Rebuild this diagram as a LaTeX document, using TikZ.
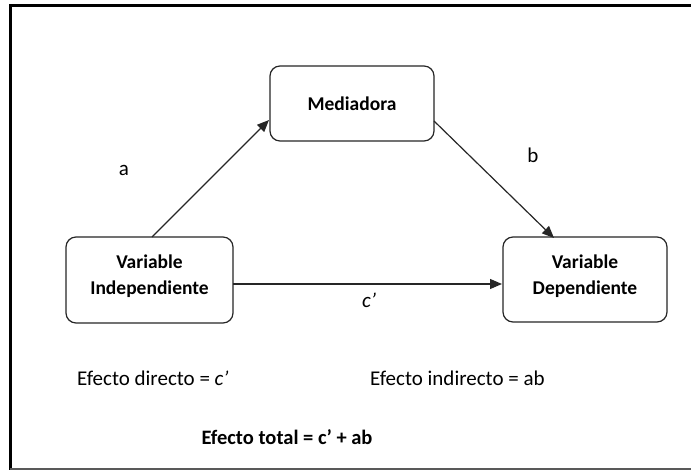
\documentclass[tikz,border=0pt]{standalone}
\usepackage{fontspec}
\setmainfont{Carlito}
\usetikzlibrary{arrows.meta}
\begin{document}
\begin{tikzpicture}[x=1pt,y=-1pt,
  box/.style={draw=black!85, line width=1.2pt, rounded corners=10pt, fill=white},
  boxtext/.style={font=\fontsize{19.5}{26}\selectfont\bfseries, align=center},
  conn/.style={draw=black!85, line width=1.2pt, -{Triangle[length=12pt,width=10pt]}},
  lbl/.style={font=\fontsize{21}{24}\selectfont, inner sep=0pt}
]
\useasboundingbox (0,0) rectangle (691,470);
% frame
\draw[black, line width=3pt] (10,480) -- (10,5.5) -- (700,5.5);
\draw[black!65, line width=2pt] (10,469) -- (700,469);
% boxes
\draw[box] (270,66) rectangle (434,141);
\node[boxtext] (med) at (352,103.5) {Mediadora};
\draw[box] (66,237) rectangle (233,323);
\node[boxtext] (ind) at (149.5,276) {Variable\\Independiente};
\draw[box] (503,237) rectangle (667,322);
\node[boxtext] (dep) at (585,276) {Variable\\Dependiente};
\coordinate (medL) at (269,120);
\coordinate (medR) at (434,121);
\coordinate (indT) at (152,237);
\coordinate (indR) at (233,284);
\coordinate (depT) at (554,238);
\coordinate (depL) at (502,284);
% connectors
\draw[conn] (indT) -- (medL);
\draw[conn] (medR) -- (depT);
\draw[conn] (indR) -- (depL);
% labels
\node[lbl] (la) at (124,170) {a};
\node[lbl] (lb) at (533,155) {b};
\node[lbl] (lc) at (369,300) {\itshape c’};
\node[lbl, anchor=west] (ed) at (77,378) {Efecto directo = \textit{c’}};
\node[lbl, anchor=west] (ei) at (370,378) {Efecto indirecto = ab};
\node[lbl, font=\fontsize{20.5}{24}\selectfont\bfseries] (et) at (287,437) {Efecto total = c’ + ab};
\end{tikzpicture}
\end{document}
